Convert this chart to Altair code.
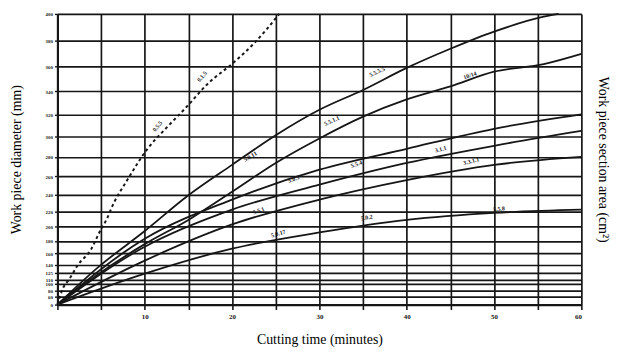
import altair as alt
import pandas as pd

# ---- data ----
x_ticks = [0, 5, 10, 15, 20, 25, 30, 35, 40, 45, 50, 55, 60]
y_ticks = [0, 60, 80, 100, 110, 125, 140, 160, 180, 200, 220, 240, 260, 280,
           300, 320, 340, 360, 380, 400]

dash_t = [0, 0.6, 1.4, 2.3, 3.9, 4.8, 5.6, 6.5, 7.8, 10.4, 12.5, 14.6, 17.2, 20.3, 22.5, 25.4]
dash_d = [0, 86, 112, 139, 168, 192, 209, 231, 253, 289, 308, 325, 346, 364, 378, 400]

a_t = [0, 4.75, 10, 15, 20, 25, 30, 35, 40, 45, 50, 55.7, 57.4]
a_d = [0, 137, 194, 239, 272, 301, 324, 341, 359, 374, 387, 398, 400]

b_t = [0, 4.75, 10, 15, 20, 25, 30, 35, 40, 45, 50, 55.7, 60]
b_d = [0, 123, 175, 209, 243, 274, 298, 318, 333, 344, 356, 362, 370]

c_t = [0, 10, 20, 30, 40, 50, 60]
c_d = [0, 183, 234, 267, 288, 307, 320]
d_t = [0, 10, 20, 30, 40, 50, 60]
d_d = [0, 171, 222, 251, 274, 291, 305]
e_t = [0, 10, 20, 30, 40, 50, 60]
e_d = [0, 148, 203, 234, 256, 272, 280]
f_t = [0, 10, 20, 30, 40, 50, 60]
f_d = [0, 123, 168, 192, 209, 218, 222]

lab_text = ["0.5.5", "0.1.5", "5.5.5.5", "10/14", "5.5.1.1", "5.0.11", "5.0.5",
            "5.5.4", "3.1.1", "3.3.1.1", "5.5.1", "5.0.17", "5.0.2", "5.5.8"]
lab_t = [11.8, 16.9, 36.8, 47.4, 31.6, 22.3, 27.2, 34.4, 44.0, 47.5, 23.2, 25.4, 35.5, 50.6]
lab_d = [307, 350, 353, 350, 311, 277, 253, 269, 284, 272, 216, 185, 207, 218]
lab_angle = [310, 310, 335, 340, 335, 330, 340, 340, 345, 345, 340, 345, 350, 355]

# ---- tables ----
rows = []
for name, ts, ds in [("A", a_t, a_d), ("B", b_t, b_d), ("C", c_t, c_d),
                     ("D", d_t, d_d), ("E", e_t, e_d), ("F", f_t, f_d)]:
    for i, (t, d) in enumerate(zip(ts, ds)):
        rows.append({"curve": name, "t": t, "d": d, "o": i})
solid = pd.DataFrame(rows)
dashed = pd.DataFrame({"t": dash_t, "d": dash_d, "o": range(len(dash_t))})
labels = pd.DataFrame({"txt": lab_text, "t": lab_t, "d": lab_d, "ang": lab_angle})

INK = "#161616"
SERIF = "Liberation Serif"

xscale = alt.Scale(domain=[0, 60], nice=False, zero=True)
yscale = alt.Scale(type="pow", exponent=1.9, domain=[0, 400], nice=False)

xaxis = alt.Axis(values=x_ticks, tickCount=100, grid=True, gridColor=INK, gridWidth=1.7,
                 gridOpacity=1, domainColor=INK, domainWidth=2.2, tickColor=INK, tickSize=5,
                 tickWidth=1.6,
                 labelExpr="datum.value % 10 == 0 && datum.value > 0 ? datum.value : ''",
                 labelFont=SERIF, labelFontSize=7, labelFontWeight="bold", labelColor=INK,
                 labelPadding=3, title="Cutting time (minutes)", titleFont=SERIF,
                 titleFontSize=14, titleFontWeight="normal", titleColor="#000",
                 titlePadding=13)
yaxis = alt.Axis(values=y_ticks, tickCount=100, grid=True, gridColor=INK, gridWidth=1.7,
                 gridOpacity=1, domainColor=INK, domainWidth=2.2, tickColor=INK, tickSize=3,
                 tickWidth=1.4, labelFont=SERIF, labelFontSize=5, labelFontWeight="bold",
                 labelColor=INK, labelPadding=2, labelOverlap=False,
                 title="Work piece diameter (mm)", titleFont=SERIF, titleFontSize=14,
                 titleFontWeight="normal", titleColor="#000", titlePadding=22)

base_solid = alt.Chart(solid).mark_line(color=INK, strokeWidth=1.8, interpolate="monotone").encode(
    x=alt.X("t:Q", scale=xscale, axis=xaxis),
    y=alt.Y("d:Q", scale=yscale, axis=yaxis),
    detail="curve:N",
    order="o:Q",
)

dash_line = alt.Chart(dashed).mark_line(color=INK, strokeWidth=2, strokeDash=[3, 3],
                                        interpolate="monotone").encode(
    x=alt.X("t:Q", scale=xscale),
    y=alt.Y("d:Q", scale=yscale),
    order="o:Q",
)

text_layer = alt.Chart(labels).mark_text(font=SERIF, fontSize=6, fontWeight="bold",
                                         color=INK, dy=-4).encode(
    x=alt.X("t:Q", scale=xscale),
    y=alt.Y("d:Q", scale=yscale),
    text="txt:N",
    angle=alt.Angle("ang:Q", scale=None),
)

left = alt.layer(base_solid, dash_line, text_layer)

right_axis = alt.Chart(dashed).mark_line(opacity=0).encode(
    x=alt.X("t:Q", scale=xscale),
    y=alt.Y("d:Q", scale=yscale,
            axis=alt.Axis(orient="right", labels=False, ticks=False, domain=False, grid=False,
                          title="Work piece section area (cm²)", titleFont=SERIF,
                          titleFontSize=14, titleFontWeight="normal", titleColor="#000",
                          titlePadding=14)),
)

chart = alt.layer(left, right_axis).resolve_scale(y="independent").properties(
    width=530, height=294,
    autosize=alt.AutoSizeParams(type="none"),
    padding={"left": 50, "top": 4, "right": 32, "bottom": 46},
).configure_view(stroke=INK, strokeWidth=2).configure(background="white")

chart.save("out.html", embed_options={"renderer": "svg", "actions": False})
